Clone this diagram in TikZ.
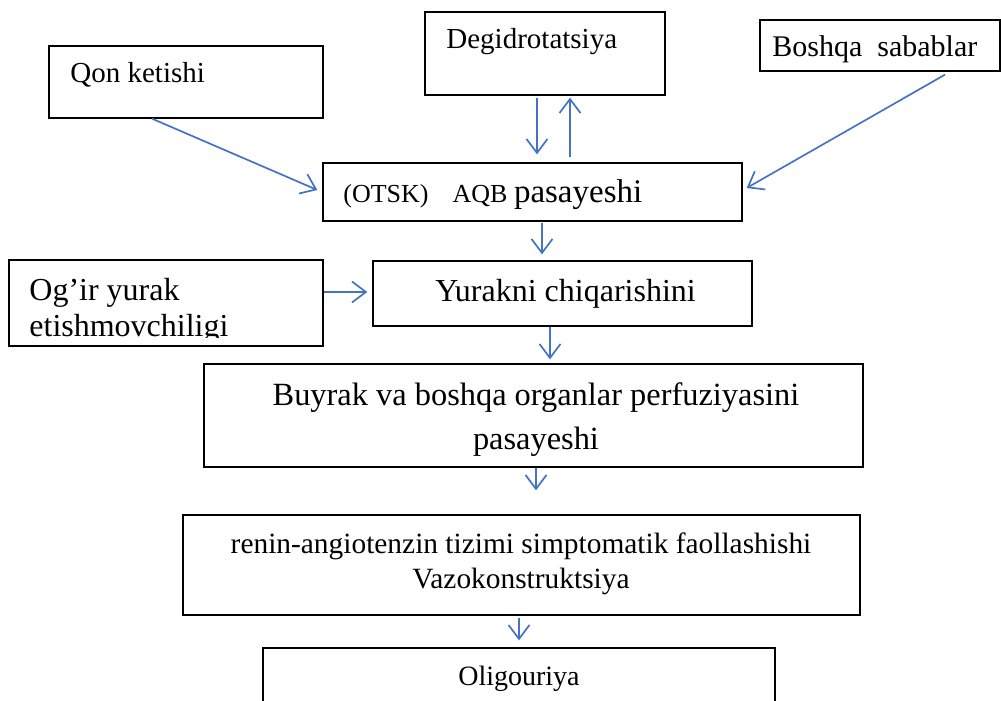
\documentclass[tikz,border=0pt]{standalone}
\usepackage{fontspec}
\setmainfont{Liberation Serif}
\usetikzlibrary{arrows.meta}
\definecolor{arrblue}{RGB}{68,114,196}
\newcommand{\fsz}[1]{\fontsize{#1}{1.2\dimexpr#1\relax}\selectfont}
\begin{document}
\begin{tikzpicture}[x=0.5pt,y=-0.5pt,
  box/.style={draw=black,line width=0.65pt,inner sep=0pt,fill=none},
  txt/.style={inner sep=0pt,anchor=base west},
  ctxt/.style={inner sep=0pt,anchor=base},
  arr/.style={draw=arrblue,line width=0.85pt,-{Straight Barb[length=7pt,width=10.5pt,line width=0.85pt]}}]
\clip (0,0) rectangle (1001,701);
\fill[white] (0,0) rectangle (1001,701);
% boxes
\node[box,minimum width=137pt,minimum height=36pt] (qon) at (186,82) {};
\node[box,minimum width=120pt,minimum height=41.5pt] (deg) at (545,53.5) {};
\node[box,minimum width=120pt,minimum height=25.5pt] (bosh) at (880,45.5) {};
\node[box,minimum width=209.5pt,minimum height=29pt] (otsk) at (532.5,192) {};
\node[box,minimum width=157pt,minimum height=43pt] (ogir) at (166,303) {};
\node[box,minimum width=189.5pt,minimum height=32.5pt] (yur) at (562.5,293.5) {};
\node[box,minimum width=329.5pt,minimum height=51.5pt] (buy) at (533.5,415.5) {};
\node[box,minimum width=338.5pt,minimum height=50pt] (ren) at (521.5,565) {};
\node[box,minimum width=256pt,minimum height=36pt] (oli) at (519,684) {};
% texts
\node[txt] (tqon) at (70,83) {\fsz{14.5pt}Qon ketishi};
\node[txt] (tdeg) at (446,49) {\fsz{14.5pt}Degidrotatsiya};
\node[txt] (tbosh) at (772,57) {\fsz{15pt}Boshqa\ \ sabablar};
\node[txt] (totsk) at (343,202) {\fsz{13pt}(OTSK)\hspace{12pt}AQB {\fsz{16.5pt}pasayeshi}};
\begin{scope}
\clip (9,260) rectangle (323,337);
\node[txt] (togir1) at (29,300) {\fsz{16pt}Og’ir yurak};
\node[txt] (togir2) at (29,336) {\fsz{16pt}etishmovchiligi};
\end{scope}
\node[txt] (tyur) at (435,301) {\fsz{16pt}Yurakni chiqarishini};
\node[ctxt] (tbuy1) at (536,405) {\fsz{16.2pt}Buyrak va boshqa organlar perfuziyasini};
\node[ctxt] (tbuy2) at (536,449) {\fsz{16.2pt}pasayeshi};
\node[ctxt] (tren1) at (521,553) {\fsz{14.7pt}renin-angiotenzin tizimi simptomatik faollashishi};
\node[ctxt] (tren2) at (521,588) {\fsz{14.7pt}Vazokonstruktsiya};
\node[ctxt] (toli) at (519,685) {\fsz{14pt}Oligouriya};
% connectors
\draw[arr] ([xshift=-17pt]qon.south) -- ([xshift=-2.5pt,yshift=1pt]otsk.west);
\draw[arr] ([xshift=-4pt,yshift=-1pt]deg.south) -- ([xshift=2.25pt,yshift=4pt]otsk.north);
\draw[arr] ([xshift=18.75pt,yshift=2.5pt]otsk.north) -- ([xshift=12.5pt,yshift=-1pt]deg.south);
\draw[arr] ([xshift=32.5pt,yshift=-1.5pt]bosh.south) -- ([xshift=2pt,yshift=2pt]otsk.east);
\draw[arr] ([xshift=4.75pt,yshift=-0.5pt]otsk.south) -- ([xshift=-10.25pt,yshift=3pt]yur.north);
\draw[arr] ([yshift=5.5pt]ogir.east) -- ([xshift=-2.5pt,yshift=0.75pt]yur.west);
\draw[arr] ([xshift=-6.25pt]yur.south) -- ([xshift=8.25pt,yshift=2pt]buy.north);
\draw[arr] ([xshift=1.25pt]buy.south) -- ([xshift=7.25pt,yshift=12pt]ren.north);
\draw[arr] ([xshift=-1.25pt,yshift=-1pt]ren.south) -- ([yshift=3.5pt]oli.north);
\end{tikzpicture}
\end{document}
